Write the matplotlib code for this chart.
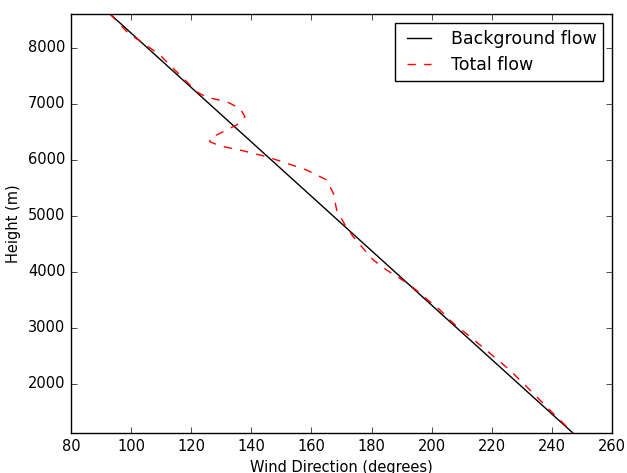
import matplotlib
matplotlib.use("Agg")
import matplotlib.pyplot as plt

# background wind profile (straight line)
bg_direction = [93.0, 247.0]
bg_height = [8607, 1125]

# total flow
total_direction = [93.0, 99.1, 104.1, 109.6, 114.0, 118.5, 121.8, 125.1, 131.8, 136.2,
                   137.9, 135.1, 129.6, 126.2, 126.2, 129.6, 136.2, 145.1, 151.8, 158.4,
                   165.1, 167.3, 168.4, 171.2, 173.9, 177.2, 180.6, 185.0, 189.4, 192.8,
                   196.1, 199.4, 202.8, 207.2, 212.8, 219.4, 226.0, 232.7, 239.3, 247.1]
total_height = [8607, 8262, 8084, 7875, 7637, 7398, 7220, 7120, 7041, 6923,
                6773, 6625, 6477, 6388, 6327, 6250, 6179, 6059, 5941, 5821,
                5643, 5405, 5107, 4839, 4630, 4423, 4214, 4036, 3887, 3768,
                3620, 3470, 3321, 3084, 2845, 2548, 2250, 1893, 1536, 1125]

x_ticks = [80, 100, 120, 140, 160, 180, 200, 220, 240, 260]
y_ticks = [2000, 3000, 4000, 5000, 6000, 7000, 8000]

plt.style.use("classic")
plt.rcParams["font.size"] = 10.5

fig = plt.figure(figsize=(6.27, 4.73), dpi=100)
ax = fig.add_axes([0.1132, 0.0846, 0.8628, 0.8858])

ax.plot(bg_direction, bg_height, "k-", label="Background flow")
ax.plot(total_direction, total_height, "r--", label="Total flow")

ax.set_xlim(80, 260)
ax.set_ylim(min(total_height), max(total_height))
ax.set_xticks(x_ticks)
ax.set_yticks(y_ticks)
ax.set_xlabel("Wind Direction (degrees)")
ax.set_ylabel("Height (m)")
ax.legend(loc="upper right", fontsize=12.5)

fig.savefig("out.png", dpi=100)
